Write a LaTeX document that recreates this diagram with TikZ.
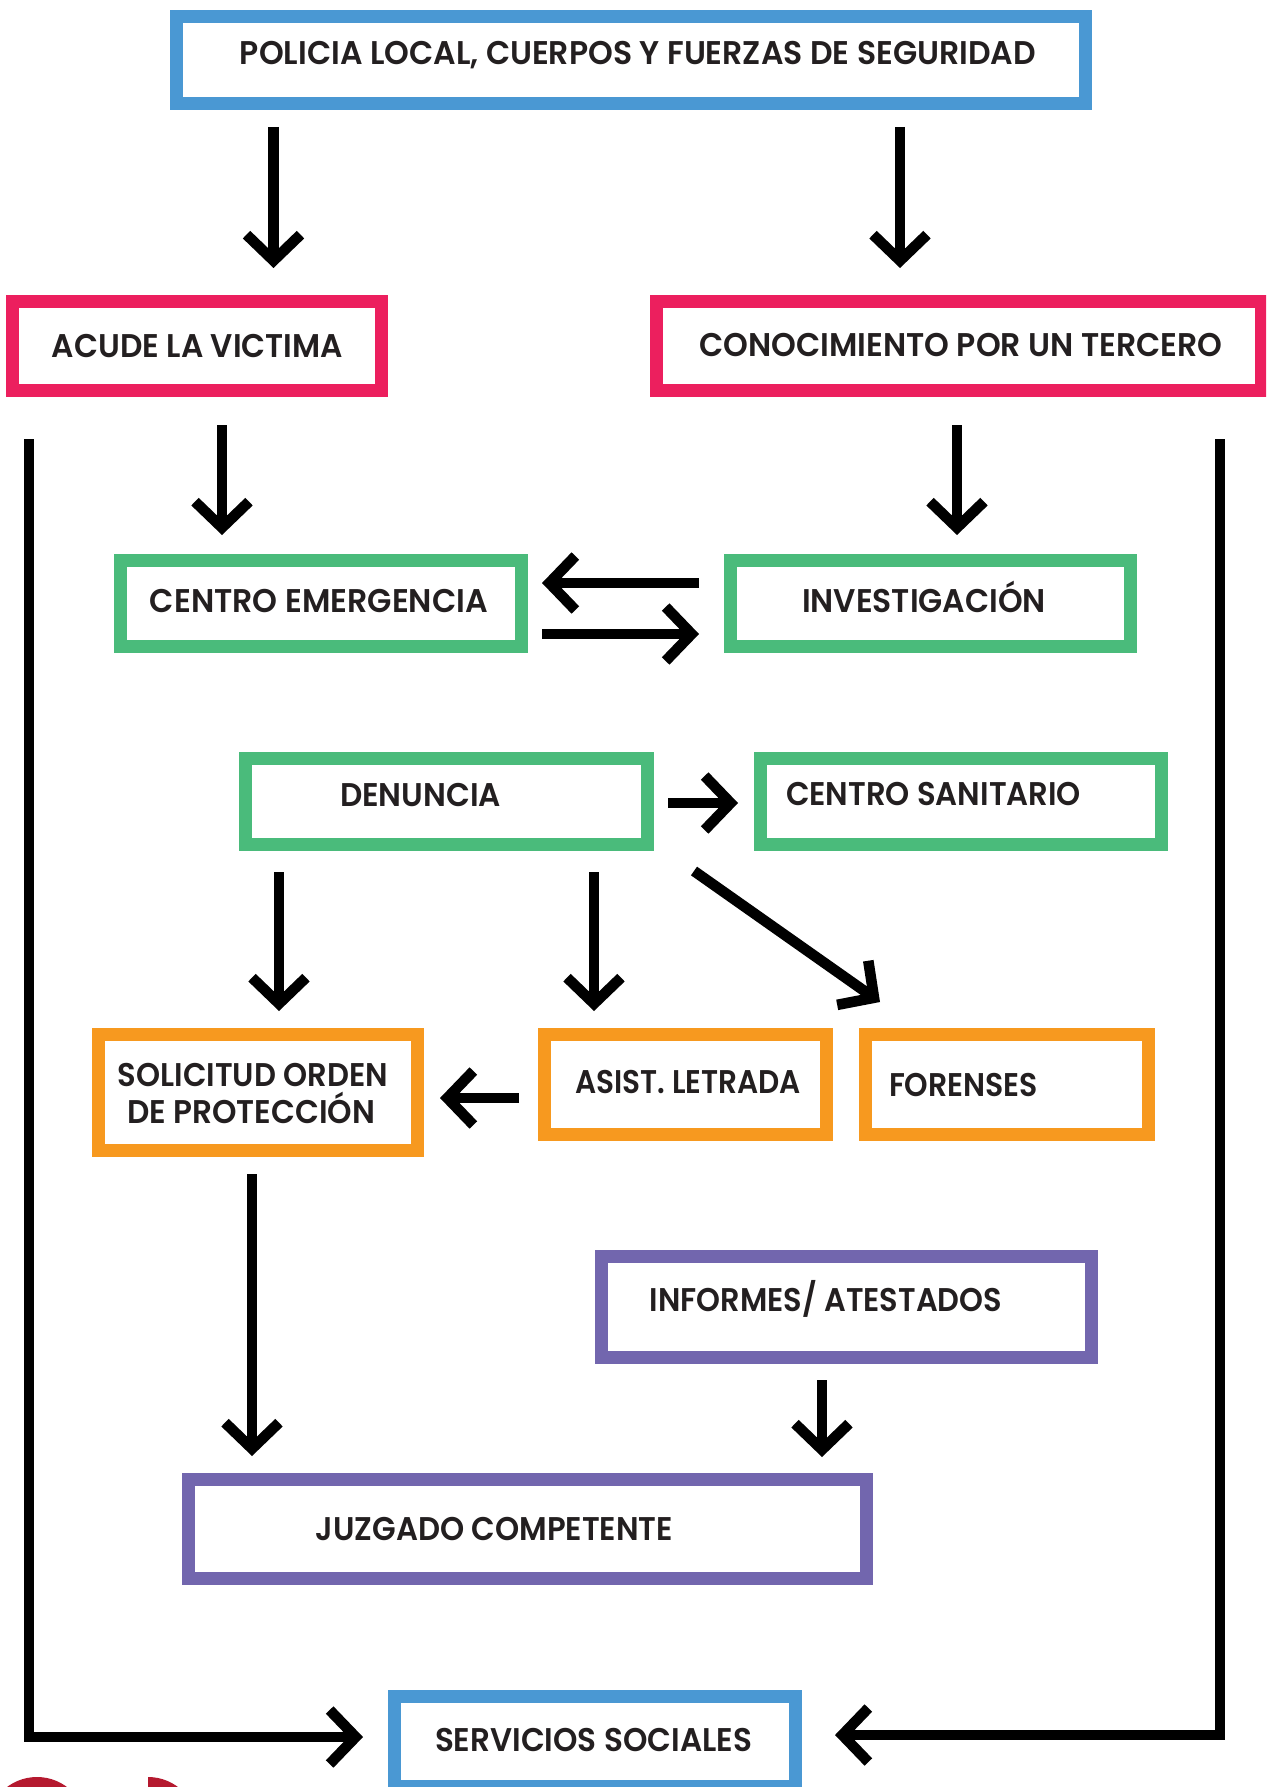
\documentclass[tikz,border=0pt]{standalone}
\usepackage{fontspec}
\setmainfont{Poppins}[BoldFont={* SemiBold}]
\usetikzlibrary{arrows.meta}
\definecolor{cblue}{HTML}{4A98D3}
\definecolor{cpink}{HTML}{EC1F5E}
\definecolor{cgreen}{HTML}{4ABB7B}
\definecolor{corange}{HTML}{F7991F}
\definecolor{cpurple}{HTML}{7266AE}
\definecolor{logored}{HTML}{B5192F}
\definecolor{txtc}{HTML}{231F20}
\newcommand\fitt[2]{\resizebox{#1}{\height}{#2}}
\begin{document}
\begin{tikzpicture}[x=0.5pt,y=-0.5pt,
  box/.style={draw=#1, line width=6.5pt, fill=white, inner sep=0pt, outer sep=0pt},
  txt/.style={anchor=base, inner sep=0pt, outer sep=0pt, font=\fontsize{16.4pt}{20pt}\selectfont\bfseries, text=txtc},
  arr/.style={draw=black, line width=5.3pt, line join=miter, -{Straight Barb[length=13pt,width=27pt]}}]
\useasboundingbox (0,0) rectangle (1266,1787);
\clip (0,0) rectangle (1266,1787);
\fill[white] (0,0) rectangle (1266,1787);

% logo fragments
\fill[logored] (37,1827) circle (50);
\fill[logored] (148,1777) arc[start angle=-90, end angle=90, radius=50] -- cycle;

% boxes
\node[box=cblue, minimum width=454.5pt, minimum height=43.5pt] (pol) at (631,60) {};
\node[box=cpink, minimum width=184.5pt, minimum height=44.5pt] (acu) at (197,346) {};
\node[box=cpink, minimum width=302.5pt, minimum height=44.5pt] (con) at (959,346) {};
\node[box=cgreen, minimum width=200.5pt, minimum height=43pt] (cem) at (321,603.5) {};
\node[box=cgreen, minimum width=200pt, minimum height=43pt] (inv) at (930.5,603.5) {};
\node[box=cgreen, minimum width=201pt, minimum height=43pt] (den) at (446.5,801.5) {};
\node[box=cgreen, minimum width=200.5pt, minimum height=43pt] (csa) at (961,801.5) {};
\node[box=corange, minimum width=159.5pt, minimum height=58pt] (sol) at (258,1092.5) {};
\node[box=corange, minimum width=141pt, minimum height=50pt] (asi) at (685.5,1084.5) {};
\node[box=corange, minimum width=141.5pt, minimum height=50pt] (for) at (1007,1084.5) {};
\node[box=cpurple, minimum width=245pt, minimum height=50.5pt] (inf) at (846.5,1307) {};
\node[box=cpurple, minimum width=339pt, minimum height=49.5pt] (juz) at (527.5,1529) {};
\node[box=cblue, minimum width=200.5pt, minimum height=45pt] (ser) at (595,1741.5) {};

% texts
\node[txt] (tpol) at (638,65) {\fitt{398pt}{POLICIA LOCAL, CUERPOS Y FUERZAS DE SEGURIDAD}};
\node[txt] (tacu) at (197.5,357) {\fitt{145.5pt}{ACUDE LA VICTIMA}};
\node[txt] (tcon) at (961,357) {\fitt{261.5pt}{CONOCIMIENTO POR UN TERCERO}};
\node[txt] (tcem) at (319,612) {\fitt{169pt}{CENTRO EMERGENCIA}};
\node[txt] (tinv) at (924,612) {\fitt{122pt}{INVESTIGACIÓN}};
\node[txt] (tden) at (420.5,806) {\fitt{80.5pt}{DENUNCIA}};
\node[txt] (tcsa) at (933.5,805) {\fitt{147.5pt}{CENTRO SANITARIO}};
\node[txt] (tsol1) at (253,1086) {\fitt{135pt}{SOLICITUD ORDEN}};
\node[txt] (tsol2) at (251,1123) {\fitt{124pt}{DE PROTECCIÓN}};
\node[txt] (tasi) at (688,1093) {\fitt{113pt}{ASIST. LETRADA}};
\node[txt] (tfor) at (963.5,1096) {\fitt{74.5pt}{FORENSES}};
\node[txt] (tinf) at (826,1311) {\fitt{176pt}{INFORMES/ ATESTADOS}};
\node[txt] (tjuz) at (494.5,1540) {\fitt{178.5pt}{JUZGADO COMPETENTE}};
\node[txt] (tser) at (593.5,1751) {\fitt{158.5pt}{SERVICIOS SOCIALES}};

% connector end points
\coordinate (a1s) at (273.5,127);  \coordinate (a1e) at (273.5,268);
\coordinate (a2s) at (900,127);    \coordinate (a2e) at (900,268);
\coordinate (a3s) at (222,425);    \coordinate (a3e) at (222,535);
\coordinate (a4s) at (957,425);    \coordinate (a4e) at (957,535);
\coordinate (a5s) at (699,583);    \coordinate (a5e) at (542,583);
\coordinate (a6s) at (542,634);    \coordinate (a6e) at (699,634);
\coordinate (a7s) at (668,803);    \coordinate (a7e) at (738,803);
\coordinate (a8s) at (279,872);    \coordinate (a8e) at (279,1011);
\coordinate (a9s) at (594,872);    \coordinate (a9e) at (594,1011);
\coordinate (a10s) at (694,871);   \coordinate (a10e) at (880,1002);
\coordinate (a11s) at (519,1098);  \coordinate (a11e) at (440,1098);
\coordinate (a12s) at (252,1174);  \coordinate (a12e) at (252,1456);
\coordinate (a13s) at (822,1380);  \coordinate (a13e) at (822,1457);
\coordinate (a14s) at (29,439);    \coordinate (a14c) at (29,1737);   \coordinate (a14e) at (363,1737);
\coordinate (a15s) at (1220,439);  \coordinate (a15c) at (1220,1735); \coordinate (a15e) at (835,1735);

% connectors
\draw[arr] (a1s) -- (a1e);
\draw[arr] (a2s) -- (a2e);
\draw[arr] (a3s) -- (a3e);
\draw[arr] (a4s) -- (a4e);
\draw[arr] (a5s) -- (a5e);
\draw[arr] (a6s) -- (a6e);
\draw[arr] (a7s) -- (a7e);
\draw[arr] (a8s) -- (a8e);
\draw[arr] (a9s) -- (a9e);
\draw[arr] (a10s) -- (a10e);
\draw[arr] (a11s) -- (a11e);
\draw[arr] (a12s) -- (a12e);
\draw[arr] (a13s) -- (a13e);
\draw[arr] (a14s) -- (a14c) -- (a14e);
\draw[arr] (a15s) -- (a15c) -- (a15e);
\end{tikzpicture}
\end{document}
